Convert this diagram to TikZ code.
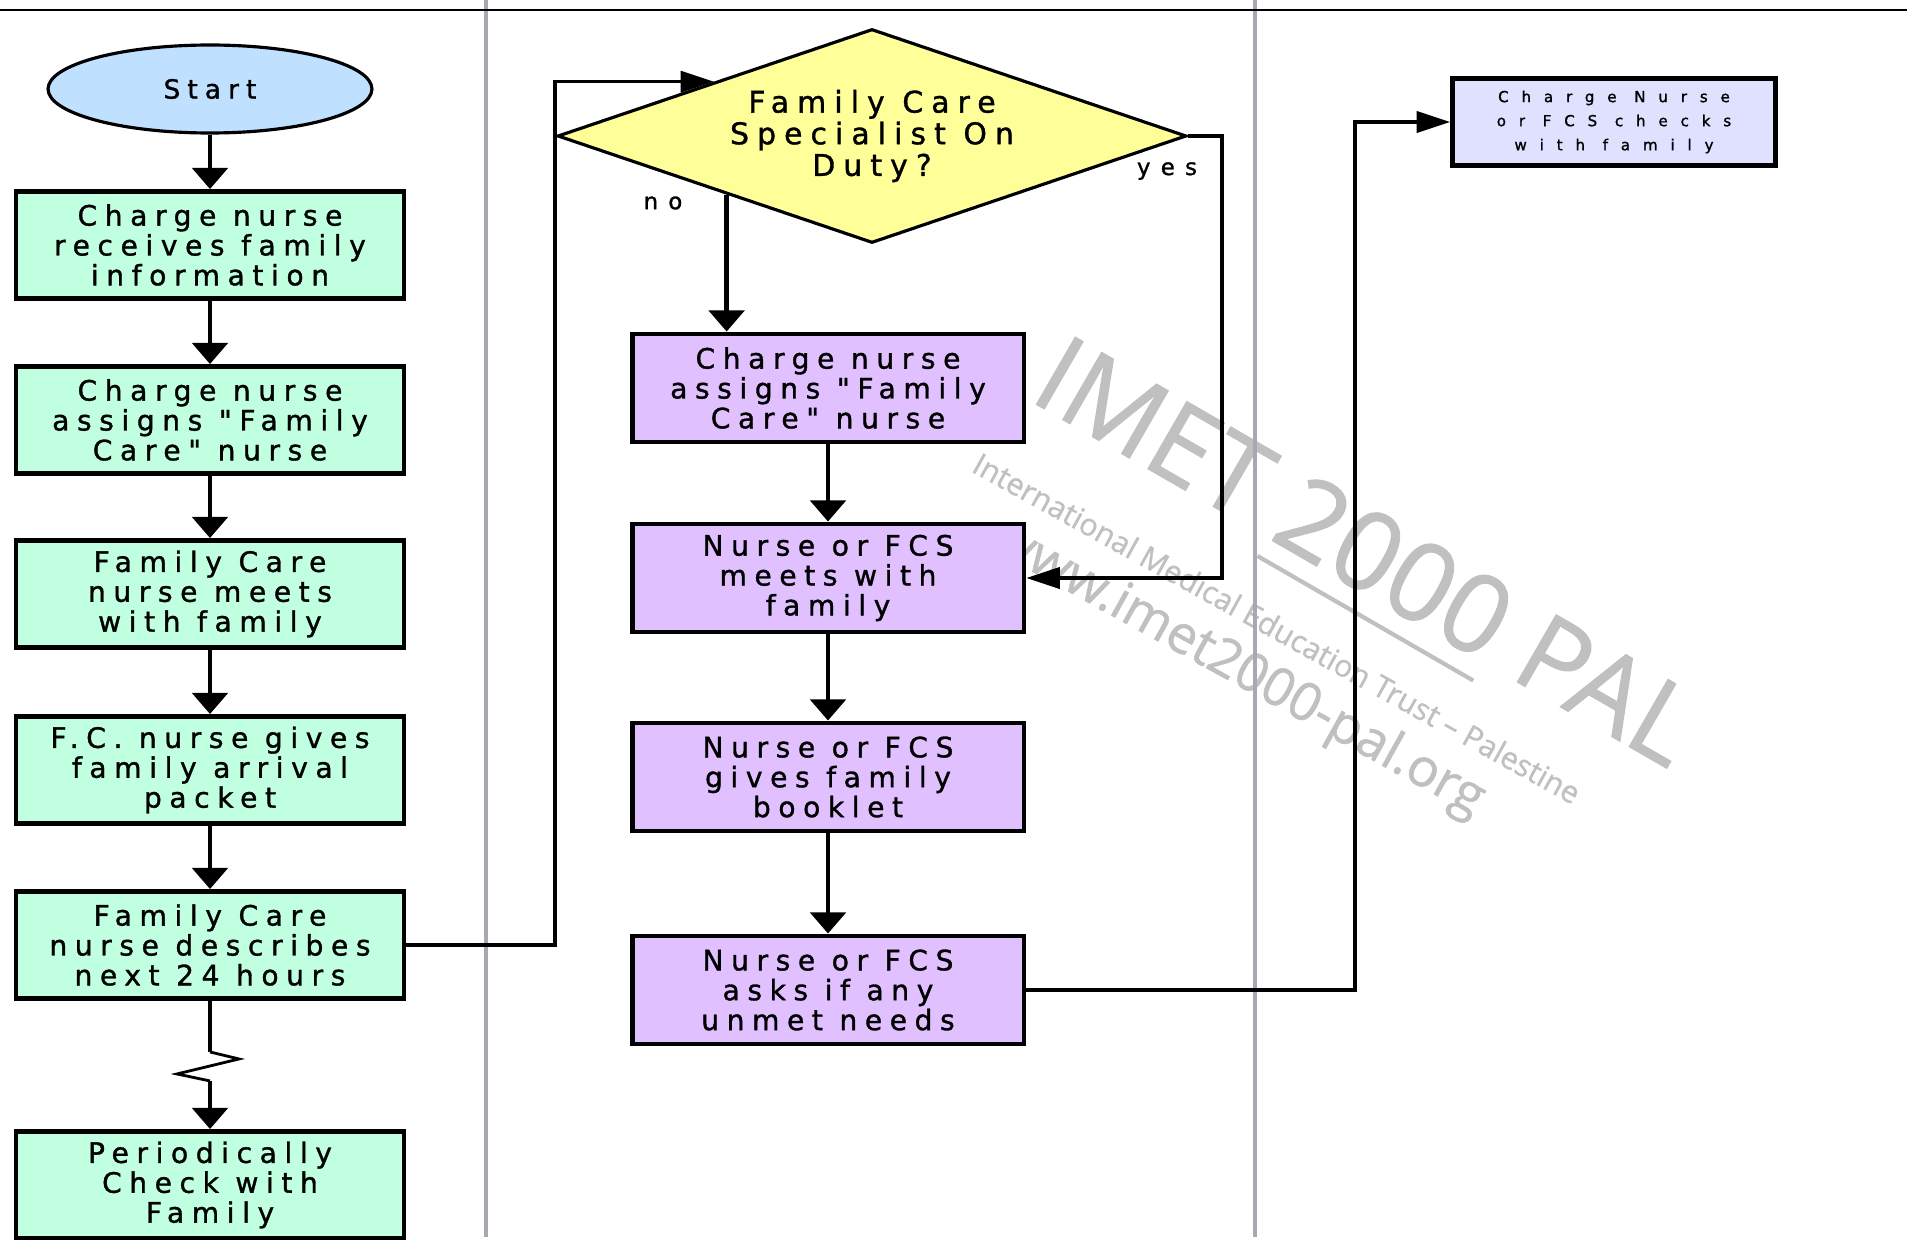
\documentclass[tikz,border=0pt]{standalone}
\usepackage{fontspec}
\setmainfont{DejaVu Sans}
\newfontfamily\boxfont{DejaVu Sans}[LetterSpace=27,FakeBold=1.2]
\newfontfamily\tagfont{DejaVu Sans}[LetterSpace=45,FakeBold=1.2]
\newfontfamily\smallfont{DejaVu Sans}[LetterSpace=85,FakeBold=1.2]
\newfontfamily\markfont{Open Sans}[FakeBold=1]
\usetikzlibrary{shapes,positioning,arrows.meta,calc}

\definecolor{startblue}{HTML}{BFE0FF}
\definecolor{stepgreen}{HTML}{C0FFE0}
\definecolor{askyellow}{HTML}{FFFF99}
\definecolor{fcspurple}{HTML}{E0C0FF}
\definecolor{checklav}{HTML}{E0E0FF}
\definecolor{lanegray}{HTML}{A8A8B0}
\definecolor{markgray}{HTML}{C0C0C0}

% thick underline for the watermark
\newcommand{\markunder}[1]{\setbox0=\hbox{#1}\rlap{\rule[-13pt]{\wd0}{2.4pt}}\box0\relax}

\begin{document}
\begin{tikzpicture}[x=0.02cm,y=-0.02cm,
    greenbox/.style={draw, line width=2.8pt, fill=stepgreen, minimum width=7.76cm, minimum height=2.14cm, inner sep=0pt, align=center, font=\boxfont\fontsize{16}{17}\selectfont},
    purplebox/.style={greenbox, fill=fcspurple, minimum width=7.84cm, minimum height=2.16cm},
    down/.style={-{Triangle[length=12pt,width=20pt]}, line width=2.6pt},
    side/.style={-{Triangle[length=19pt,width=12pt]}, line width=2pt}
  ]
  \useasboundingbox (0,0) rectangle (1907,1240);

  % watermark
  \node[markgray, rotate=-30, font=\markfont\fontsize{62}{62}\selectfont] (wmark) at (1362,560) {IMET \markunder{2000} PAL};
  \node[markgray, rotate=-29, font=\markfont\fontsize{17.3}{18}\selectfont] (wtrust) at (1277,628) {International Medical Education Trust – Palestine};
  \node[markgray, rotate=-29, font=\markfont\fontsize{30}{30}\selectfont] (wsite) at (1238,670) {www.imet2000-pal.org};

  % swim lanes
  \draw[lanegray, line width=2.3pt] (486,0) -- (486,1237);
  \draw[lanegray, line width=2.3pt] (1255,0) -- (1255,1237);
  \draw[line width=1.7pt] (0,10) -- (1907,10);

  % left lane
  \node[ellipse, draw, line width=1.8pt, fill=startblue, minimum width=6.48cm, minimum height=1.76cm, inner sep=0pt, font=\boxfont\fontsize{15}{17}\selectfont] (start) at (210,89) {Start};
  \node[greenbox] (recv) at (210,245) {Charge nurse\\receives family\\information};
  \node[greenbox] (assign) at (210,420) {Charge nurse\\assigns "Family\\Care" nurse};
  \node[greenbox] (meet) at (210,594) {Family Care\\nurse meets\\with family};
  \node[greenbox] (packet) at (210,770) {F.C. nurse gives\\family arrival\\packet};
  \node[greenbox] (describe) at (210,945) {Family Care\\nurse describes\\next 24 hours};
  \node[greenbox] (periodic) at (210,1185) {Periodically\\Check with\\Family};

  \foreach \a/\b in {start/recv, recv/assign, assign/meet, meet/packet, packet/describe}
    \draw[down] (\a.south) -- (\b.north);
  \draw[line width=2.6pt] (describe.south) -- ++(0,51) coordinate (zzin);
  \draw[line width=1.6pt] (zzin) -- ++(29,7) -- ++(-62,15) -- ++(33,7) coordinate (zzout);
  \draw[down] (zzout) -- (periodic.north);

  % middle lane
  \node[diamond, draw, line width=1.8pt, fill=askyellow, aspect=2.94, minimum width=12.58cm, minimum height=4.28cm, inner sep=0pt, align=center, font=\boxfont\fontsize{17}{18}\selectfont] (duty) at (872,136) {Family Care\\Specialist On\\Duty?};
  \node[purplebox] (fcassign) at (828,388) {Charge nurse\\assigns "Family\\Care" nurse};
  \node[purplebox] (fcsmeet) at (828,578) {Nurse or FCS\\meets with\\family};
  \node[purplebox] (booklet) at (828,777) {Nurse or FCS\\gives family\\booklet};
  \node[purplebox] (needs) at (828,990) {Nurse or FCS\\asks if any\\unmet needs};

  \coordinate (noout) at ($(duty.west)!0.54!(duty.south)$);
  \draw[down] (noout) -- (noout |- fcassign.north);
  \node[font=\tagfont\fontsize{13}{15}\selectfont] (nolabel) at (663,203) {no};
  \coordinate (yesx) at (1222,0);
  \draw[side] (duty.east) -- (duty.east -| yesx) |- (fcsmeet.east);
  \node[font=\tagfont\fontsize{13}{15}\selectfont] (yeslabel) at (1167,171) {yes};
  \foreach \a/\b in {fcassign/fcsmeet, fcsmeet/booklet, booklet/needs}
    \draw[down] (\a.south) -- (\b.north);

  \coordinate (loopx) at (555,0);
  \draw[side] (describe.east) -- (describe.east -| loopx) |- (duty.north west);

  % right lane
  \node[draw, line width=2.8pt, fill=checklav, minimum width=6.46cm, minimum height=1.74cm, inner sep=0pt, align=center, font=\smallfont\fontsize{8.6}{13.7}\selectfont] (check) at (1614,122) {Charge Nurse\\or FCS checks\\with family};
  \coordinate (outx) at (1355,0);
  \draw[side] (needs.east) -- (needs.east -| outx) |- (check.west);
\end{tikzpicture}
\end{document}
